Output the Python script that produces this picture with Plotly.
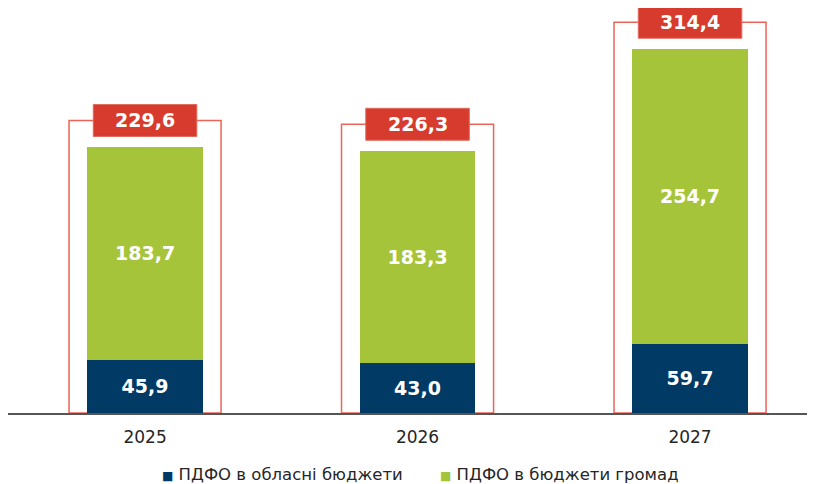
import plotly.graph_objects as go

# Data
years = ["2025", "2026", "2027"]
oblast = [45.9, 43.0, 59.7]        # ПДФО в обласні бюджети
hromady = [183.7, 183.3, 254.7]    # ПДФО в бюджети громад
totals = [229.6, 226.3, 314.4]

NAVY = "#003A65"
GREEN = "#A6C43A"
RED = "#D73B2D"
OUTLINE = "#EC6458"
FONT = "DejaVu Sans, Arial, sans-serif"


def fmt(v):
    return f"{v:.1f}".replace(".", ",")


xpos = list(range(len(years)))

fig = go.Figure()
fig.add_trace(go.Bar(
    x=xpos, y=oblast, name="ПДФО в обласні бюджети",
    marker=dict(color=NAVY, line=dict(width=0)),
    text=[fmt(v) for v in oblast], textposition="inside",
    insidetextanchor="middle",
    textfont=dict(color="white", size=19, family=FONT, weight="bold"),
    width=0.425,
))
fig.add_trace(go.Bar(
    x=xpos, y=hromady, name="ПДФО в бюджети громад",
    marker=dict(color=GREEN, line=dict(width=0)),
    text=[fmt(v) for v in hromady], textposition="inside",
    insidetextanchor="middle",
    textfont=dict(color="white", size=19, family=FONT, weight="bold"),
    width=0.425,
))

# red outline frames and total labels
for x, t in zip(xpos, totals):
    top = t + 23
    fig.add_shape(type="rect", xref="x", yref="y",
                  x0=x - 0.279, x1=x + 0.279, y0=0, y1=top,
                  line=dict(color=OUTLINE, width=1.5), fillcolor="rgba(0,0,0,0)",
                  layer="below")
    fig.add_shape(type="rect", xref="x", yref="y",
                  x0=x - 0.19, x1=x + 0.19, y0=top - 13.8, y1=top + 13.8,
                  line=dict(color="#E06A5E", width=1), fillcolor=RED)
    fig.add_annotation(x=x, y=top, xref="x", yref="y", text=fmt(t),
                       showarrow=False, yanchor="middle",
                       font=dict(color="white", size=19, family=FONT, weight="bold"))

# legend drawn as text
legend_items = [("ПДФО в обласні бюджети", NAVY, 0.186),
                ("ПДФО в бюджети громад", GREEN, 0.528)]
for label, color, lx in legend_items:
    fig.add_annotation(
        x=lx, y=-0.153, xref="paper", yref="paper", xanchor="left", yanchor="middle",
        showarrow=False,
        text=f'<span style="color:{color};font-size:12px">■</span> {label}',
        font=dict(size=16.5, color="#262626", family=FONT),
    )

fig.update_layout(
    barmode="stack",
    width=815, height=484,
    margin=dict(l=0, r=0, t=0, b=79),
    plot_bgcolor="white", paper_bgcolor="white",
    font=dict(family=FONT, size=17, color="#262626"),
    showlegend=False,
)
fig.update_xaxes(range=[-0.503, 2.488], tickvals=xpos, ticktext=years,
                 showline=True, linecolor="#555555", linewidth=2,
                 ticks="", showgrid=False, zeroline=False,
                 ticklabelstandoff=8,
                 tickfont=dict(size=17, color="#262626", family=FONT))
fig.update_yaxes(range=[0, 349.7], visible=False, showgrid=False, zeroline=False)

fig.write_html("out.html")
